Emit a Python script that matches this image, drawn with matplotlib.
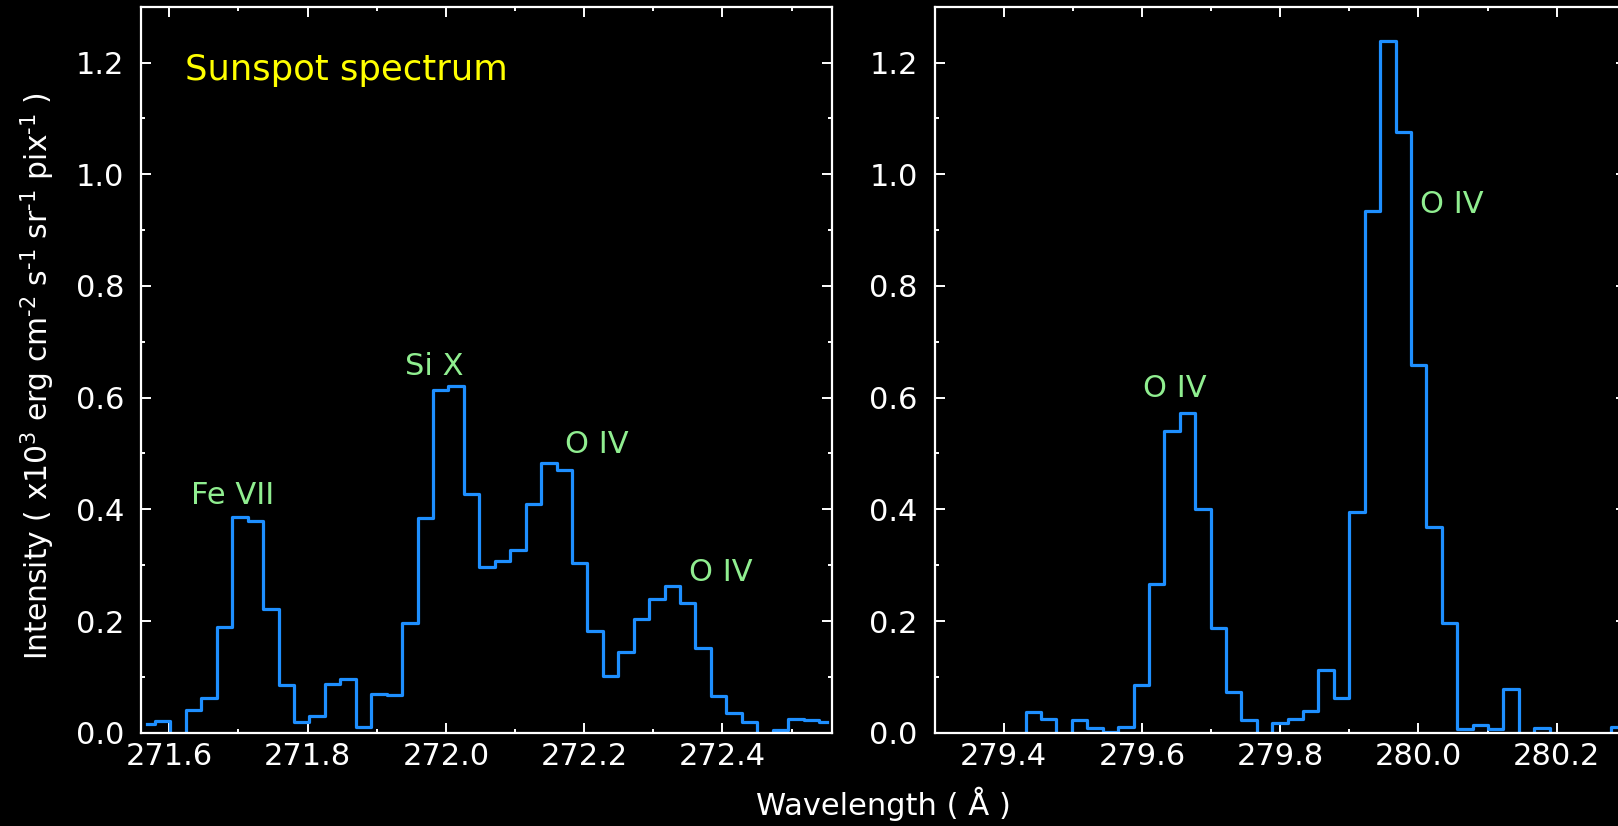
import matplotlib
matplotlib.use("Agg")
import matplotlib.pyplot as plt
from matplotlib.ticker import MultipleLocator

# ---- data (pixel-binned spectra, bin centres in Angstrom) ----
wl_left = [271.5682, 271.5905, 271.6128, 271.6352, 271.6575, 271.6798, 271.7022, 271.7245,
           271.7468, 271.7692, 271.7915, 271.8139, 271.8362, 271.8585, 271.8809, 271.9032,
           271.9255, 271.9479, 271.9702, 271.9925, 272.0149, 272.0372, 272.0596, 272.0819,
           272.1042, 272.1266, 272.1489, 272.1712, 272.1936, 272.2159, 272.2382, 272.2606,
           272.2829, 272.3052, 272.3276, 272.3499, 272.3722, 272.3946, 272.4169, 272.4392,
           272.4616, 272.4839, 272.5063, 272.5286, 272.5509]
int_left = [0.015, 0.021, -0.02, 0.041, 0.063, 0.189, 0.386, 0.379, 0.221, 0.085,
            0.020, 0.030, 0.087, 0.096, 0.011, 0.070, 0.067, 0.196, 0.385, 0.613,
            0.620, 0.427, 0.296, 0.308, 0.327, 0.409, 0.483, 0.471, 0.304, 0.183,
            0.101, 0.145, 0.203, 0.239, 0.262, 0.232, 0.151, 0.066, 0.035, 0.019,
            -0.01, 0.005, 0.025, 0.022, 0.020]

wl_right = [279.3092, 279.3315, 279.3538, 279.3761, 279.3984, 279.4207, 279.4430, 279.4653,
            279.4876, 279.5099, 279.5322, 279.5545, 279.5767, 279.5990, 279.6213, 279.6436,
            279.6659, 279.6882, 279.7105, 279.7328, 279.7551, 279.7774, 279.7997, 279.8220,
            279.8443, 279.8666, 279.8889, 279.9112, 279.9335, 279.9558, 279.9781, 280.0004,
            280.0227, 280.0450, 280.0673, 280.0896, 280.1119, 280.1342, 280.1565, 280.1788,
            280.2011, 280.2234, 280.2456, 280.2679, 280.2902]
int_right = [-0.02, -0.01, -0.03, -0.02, -0.01, -0.02, 0.037, 0.025, -0.01, 0.023,
             0.009, 0.002, 0.011, 0.085, 0.267, 0.540, 0.573, 0.400, 0.187, 0.072,
             0.022, -0.01, 0.017, 0.024, 0.039, 0.113, 0.062, 0.395, 0.934, 1.238,
             1.075, 0.659, 0.369, 0.197, 0.006, 0.014, 0.006, 0.078, -0.01, 0.009,
             -0.02, -0.01, -0.02, -0.01, 0.011]

lines_left = [("Fe VII", 271.691, 0.410), ("Si X", 271.983, 0.640),
              ("O IV", 272.218, 0.500), ("O IV", 272.397, 0.272)]
lines_right = [("O IV", 279.648, 0.601), ("O IV", 280.048, 0.930)]

XLIM_LEFT = (271.559, 272.559)
XLIM_RIGHT = (279.3, 280.3)
BLUE = "#1e8fff"
GREEN = "#90ee90"
FS = 22

plt.rcParams["font.family"] = ["DejaVu Sans"]

fig = plt.figure(figsize=(16.18, 8.26), dpi=100, facecolor="black")
ax1 = fig.add_axes([0.08715, 0.11295, 0.42726, 0.87893])
ax2 = fig.add_axes([0.57757, 0.11295, 0.42726, 0.87893])   # runs past the right edge, as in the original

for ax, wl, iv, xl, labs in ((ax1, wl_left, int_left, XLIM_LEFT, lines_left),
                             (ax2, wl_right, int_right, XLIM_RIGHT, lines_right)):
    ax.set_facecolor("black")
    ax.step(wl, iv, where="mid", color=BLUE, lw=2.3)
    ax.set_xlim(*xl)
    ax.set_ylim(0, 1.3)
    ax.xaxis.set_major_locator(MultipleLocator(0.2))
    ax.xaxis.set_minor_locator(MultipleLocator(0.1))
    ax.yaxis.set_major_locator(MultipleLocator(0.2))
    ax.yaxis.set_minor_locator(MultipleLocator(0.1))
    ax.xaxis.set_major_formatter("{x:.1f}")
    ax.yaxis.set_major_formatter("{x:.1f}")
    for s in ax.spines.values():
        s.set_color("white")
        s.set_linewidth(1.6)
    ax.tick_params(which="both", direction="in", top=True, right=True,
                   colors="white", width=1.4)
    ax.tick_params(which="major", length=7.2)
    ax.tick_params(which="minor", length=3.2)
    ax.tick_params(axis="x", which="major", labelsize=FS, pad=7)
    ax.tick_params(axis="y", which="major", labelsize=FS, pad=12)
    for name, x, y in labs:
        ax.text(x, y, name, color=GREEN, fontsize=FS, ha="center", va="baseline")

ax1.text(271.622, 1.169, "Sunspot spectrum", color="yellow", fontsize=25.5,
         ha="left", va="baseline")

fig.text(0.5461, 0.0133, "Wavelength ( Å )", color="white", fontsize=FS,
         ha="center", va="baseline")
fig.text(0.0235, 0.545,
         "Intensity ( x10$^{3}$ erg cm$^{\u2010 2}$ s$^{\u2010 1}$ sr$^{\u2010 1}$ pix$^{\u2010 1}$ )",
         color="white", fontsize=21.4, rotation=90, ha="center", va="center")

fig.savefig("out.png", dpi=100, facecolor="black")
